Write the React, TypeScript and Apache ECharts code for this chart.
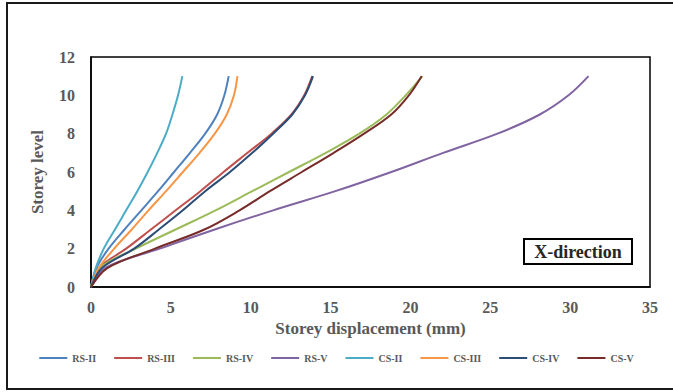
import React, { useEffect, useRef } from "react";
import * as echarts from "echarts";

// Storey levels 0 (base) to 11 (roof)
const storeyLevels = [0, 1, 2, 3, 4, 5, 6, 7, 8, 9, 10, 11];

// Storey displacement (mm) in the X-direction for each model
const rsII = [0, 0.35, 1.1, 2.1, 3.15, 4.2, 5.2, 6.2, 7.15, 7.9, 8.35, 8.62];
const rsIII = [0, 0.5, 2.2, 3.75, 5.3, 6.85, 8.3, 9.8, 11.3, 12.55, 13.35, 13.85];
const rsIV = [0, 0.55, 2.8, 5.3, 7.8, 10.1, 12.4, 14.7, 16.8, 18.5, 19.7, 20.75];
const rsV = [0, 0.9, 4.3, 7.75, 11.4, 15.3, 18.8, 22.05, 25.45, 28.1, 29.9, 31.15];
const csII = [0, 0.3, 0.8, 1.5, 2.2, 2.9, 3.55, 4.15, 4.7, 5.1, 5.45, 5.72];
const csIII = [0, 0.5, 1.45, 2.55, 3.6, 4.7, 5.75, 6.8, 7.75, 8.5, 8.95, 9.17];
const csIV = [0, 0.7, 2.7, 4.25, 5.75, 7.15, 8.7, 10.1, 11.4, 12.6, 13.4, 13.9];
const csV = [0, 1.05, 4.0, 7.1, 9.3, 11.2, 13.2, 15.2, 17.1, 18.8, 19.9, 20.7];

const seriesNames = ["RS-II", "RS-III", "RS-IV", "RS-V", "CS-II", "CS-III", "CS-IV", "CS-V"];
const seriesValues = [rsII, rsIII, rsIV, rsV, csII, csIII, csIV, csV];
const seriesColors = ["#4F81BD", "#C0504D", "#9BBB59", "#8064A2", "#4BACC6", "#F79646", "#2C4D75", "#772C2A"];

const FONT = "Liberation Serif";
const GREY = "#595959";

export default function App() {
  const ref = useRef<HTMLDivElement>(null);

  useEffect(() => {
    if (!ref.current) return;
    const chart = echarts.init(ref.current, null, { renderer: "svg" });

    const series = seriesNames.map((name, i) => ({
      name,
      type: "line",
      data: seriesValues[i].map((d, k) => [d, storeyLevels[k]]),
      showSymbol: false,
      symbol: "none",
      smooth: 0.35,
      lineStyle: { color: seriesColors[i], width: 2 },
      itemStyle: { color: seriesColors[i] },
      z: 3,
    }));

    chart.setOption({
      animation: false,
      backgroundColor: "#ffffff",
      textStyle: { fontFamily: FONT },
      grid: {
        left: 91,
        right: 23,
        top: 57,
        bottom: 105,
        show: true,
        borderColor: "#000000",
        borderWidth: 1.5,
      },
      xAxis: {
        type: "value",
        min: 0,
        max: 35,
        interval: 5,
        name: "Storey displacement (mm)",
        nameLocation: "middle",
        nameGap: 33,
        nameTextStyle: { color: GREY, fontSize: 17, fontWeight: "bold", fontFamily: FONT },
        axisLine: { show: true, lineStyle: { color: "#000000", width: 1.5 } },
        axisTick: { show: false },
        splitLine: { show: false },
        axisLabel: { color: GREY, fontSize: 16, fontWeight: "bold", fontFamily: FONT, margin: 12 },
      },
      yAxis: {
        type: "value",
        min: 0,
        max: 12,
        interval: 2,
        name: "Storey level",
        nameLocation: "middle",
        nameGap: 45,
        nameRotate: 90,
        nameTextStyle: { color: GREY, fontSize: 17, fontWeight: "bold", fontFamily: FONT },
        axisLine: { show: true, lineStyle: { color: "#000000", width: 1.5 } },
        axisTick: { show: false },
        splitLine: { show: false },
        axisLabel: { color: GREY, fontSize: 16, fontWeight: "bold", fontFamily: FONT, margin: 16 },
      },
      legend: {
        data: seriesNames,
        top: 346,
        left: "center",
        icon: "rect",
        itemWidth: 28,
        itemHeight: 2,
        itemGap: 18,
        textStyle: { color: GREY, fontSize: 10, fontWeight: "bold", fontFamily: FONT, lineHeight: 14 },
      },
      graphic: [
        {
          type: "rect",
          shape: { x: 7, y: 3, width: 680, height: 386 },
          style: { fill: "none", stroke: "#1a1a1a", lineWidth: 2 },
          silent: true,
          z: 0,
        },
        {
          type: "rect",
          shape: { x: 524, y: 239, width: 108, height: 25 },
          style: { fill: "#ffffff", stroke: "#000000", lineWidth: 2 },
          silent: true,
          z: 10,
        },
        {
          type: "text",
          x: 578,
          y: 251.5,
          style: {
            text: "X-direction",
            fill: "#262626",
            font: `bold 18px "${FONT}"`,
            align: "center",
            verticalAlign: "middle",
          },
          silent: true,
          z: 11,
        },
      ],
      series,
    });

    return () => chart.dispose();
  }, []);

  return <div ref={ref} style={{ width: 673, height: 392, position: "absolute", left: 0, top: 0 }} />;
}
